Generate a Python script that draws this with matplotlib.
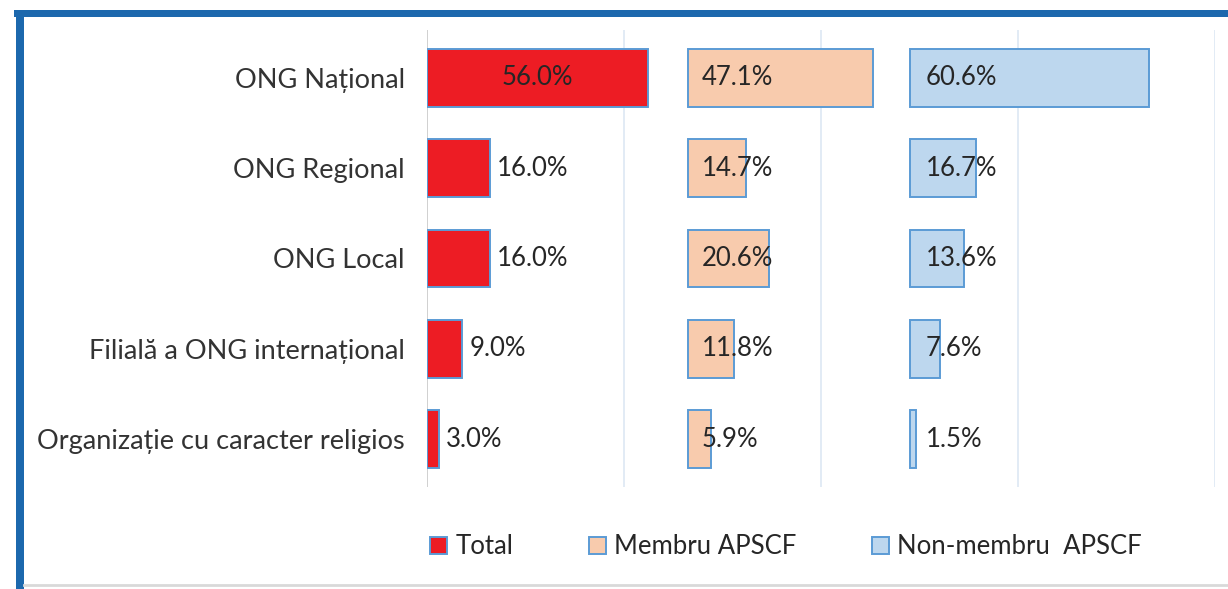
import matplotlib
matplotlib.use("Agg")
import matplotlib.pyplot as plt
from matplotlib.patches import Rectangle, Patch
from matplotlib.lines import Line2D

plt.rcParams['font.family'] = ['Lato', 'DejaVu Sans']

categories = ['ONG Național', 'ONG Regional', 'ONG Local',
              'Filială a ONG internațional', 'Organizație cu caracter religios']
total = [56.0, 16.0, 16.0, 9.0, 3.0]
membru = [47.1, 14.7, 20.6, 11.8, 5.9]
non_membru = [60.6, 16.7, 13.6, 7.6, 1.5]
series_names = ['Total', 'Membru APSCF', 'Non-membru  APSCF']

# layout (panel offsets along the shared value axis)
OFF_MEMBRU = 66.2
OFF_NON = 122.6

W, H = 1228, 589
fig = plt.figure(figsize=(W / 100, H / 100), dpi=100)
fig.patch.set_facecolor('white')

ax = fig.add_axes([427 / W, 1 - 487 / H, (1215 - 427) / W, (487 - 30) / H])
ax.set_xlim(0, 200)
ax.set_ylim(4.53, -0.53)
for s in ax.spines.values():
    s.set_visible(False)
ax.tick_params(axis='both', length=0)
ax.set_xticks([])
ax.set_yticks(range(len(categories)))
ax.set_yticklabels(categories, fontsize=19.5, color='#333333')
ax.tick_params(axis='y', pad=16)

for g in [50, 100, 150, 200]:
    ax.axvline(g, color='#DDE8F4', lw=1.2, zorder=0)
ax.axvline(0, color='#C8C8C8', lw=1.2, zorder=0)

edge = '#5B9BD5'
y = list(range(len(categories)))
h = 0.64
ax.barh(y, total, height=h, color='#ED1C24', edgecolor=edge, linewidth=1.4, zorder=2)
ax.barh(y, membru, left=OFF_MEMBRU, height=h, color='#F8CBAD', edgecolor=edge, linewidth=1.4, zorder=2)
ax.barh(y, non_membru, left=OFF_NON, height=h, color='#BDD7EE', edgecolor=edge, linewidth=1.4, zorder=2)

lab_kw = dict(fontsize=18.5, color='#262626', va='center', zorder=3)
for i, v in enumerate(total):
    txt = f'{v:.1f}%'
    if v > 30:
        ax.text(v / 2, i, txt, ha='center', **lab_kw)
    else:
        ax.annotate(txt, (v, i), xytext=(7, 0), textcoords='offset pixels', ha='left', **lab_kw)
for i, v in enumerate(membru):
    ax.annotate(f'{v:.1f}%', (OFF_MEMBRU, i), xytext=(14, 0), textcoords='offset pixels', ha='left', **lab_kw)
for i, v in enumerate(non_membru):
    ax.annotate(f'{v:.1f}%', (OFF_NON, i), xytext=(16, 0), textcoords='offset pixels', ha='left', **lab_kw)

# legend
handles = [Patch(facecolor='#ED1C24', edgecolor=edge, linewidth=1.4),
           Patch(facecolor='#F8CBAD', edgecolor=edge, linewidth=1.4),
           Patch(facecolor='#BDD7EE', edgecolor=edge, linewidth=1.4)]
fig.legend(handles, series_names, loc='center left', bbox_to_anchor=(430 / W, 1 - 547 / H),
           ncol=3, frameon=False, fontsize=18.5, handlelength=0.66, handleheight=0.66,
           handletextpad=0.32, columnspacing=2.95, borderpad=0, borderaxespad=0,
           labelcolor='#262626')

# frame decorations
blue = '#1C68AD'
fig.add_artist(Rectangle((14 / W, 1 - 17 / H), (W - 14) / W, 7 / H, transform=fig.transFigure,
                         facecolor=blue, edgecolor='none'))
fig.add_artist(Rectangle((16 / W, 0), 8 / W, 1 - 10 / H, transform=fig.transFigure,
                         facecolor=blue, edgecolor='none'))
fig.add_artist(Line2D([24 / W, 1], [1 - 585 / H, 1 - 585 / H], transform=fig.transFigure,
                      color='#D9D9D9', lw=2))

fig.savefig('out.png', dpi=100, facecolor='white')
